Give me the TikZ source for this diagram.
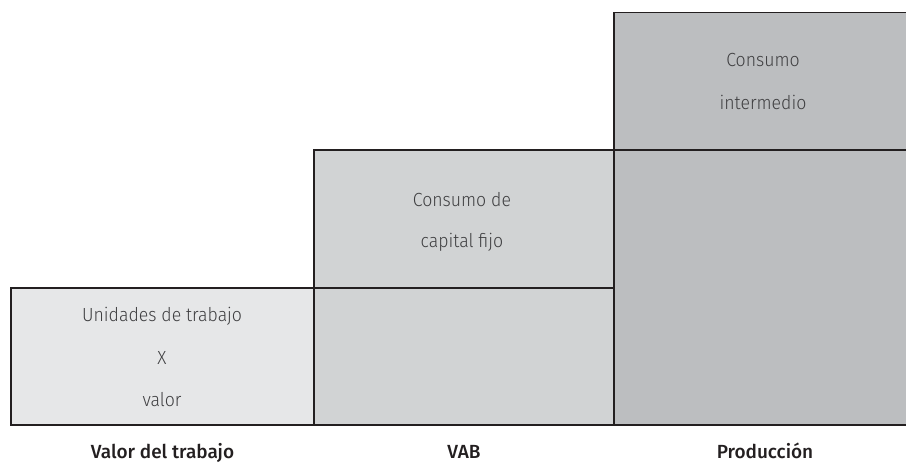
\documentclass[tikz,border=0pt]{standalone}
\usepackage{fontspec}
\setmainfont{Fira Sans}
\newfontfamily\boxfont{Fira Sans Light}[FakeStretch=0.93]
\newfontfamily\labfont{Fira Sans Medium}
\definecolor{lineC}{HTML}{231F20}
\definecolor{textC}{HTML}{3F3F41}
\definecolor{fillA}{HTML}{E6E7E8}
\definecolor{fillB}{HTML}{D1D3D4}
\definecolor{fillC}{HTML}{BCBEC0}
\tikzset{
  blk/.style={draw=lineC, line width=1.8pt},
  boxtxt/.style={anchor=base, inner sep=0pt, text=textC, font=\boxfont\fontsize{19}{22}\selectfont},
  labtxt/.style={anchor=base, inner sep=0pt, text=lineC, font=\labfont\fontsize{19}{22}\selectfont}
}
\begin{document}
\begin{tikzpicture}[x=1pt,y=-1pt]
\useasboundingbox (0,0) rectangle (906,464);
% fills
\fill[fillA] (11,288) rectangle (314,425);
\fill[fillB] (314,150) rectangle (614,425);
\fill[fillC] (614,12.5) rectangle (907,425);
% outlines
\draw[blk] (11,288) rectangle (314,425);
\draw[blk] (314,150) rectangle (614,425);
\draw[blk] (314,288) -- (614,288);
\draw[blk] (908,12.5) -- (614,12.5) -- (614,425) -- (908,425);
\draw[blk] (614,150) -- (908,150);
% box texts
\node[boxtxt] (u1) at (162,321) {Unidades de trabajo};
\node[boxtxt] (u2) at (162,364) {X};
\node[boxtxt] (u3) at (162,406) {valor};
\node[boxtxt] (c1) at (462,206) {Consumo de};
\node[boxtxt] (c2) at (462,247) {capital fijo};
\node[boxtxt] (i1) at (763,66) {Consumo};
\node[boxtxt] (i2) at (763,109) {intermedio};
% bottom labels
\node[labtxt] (l1) at (162.5,458) {Valor del trabajo};
\node[labtxt] (l2) at (464,458) {VAB};
\node[labtxt] (l3) at (765,458) {Producción};
\end{tikzpicture}
\end{document}
